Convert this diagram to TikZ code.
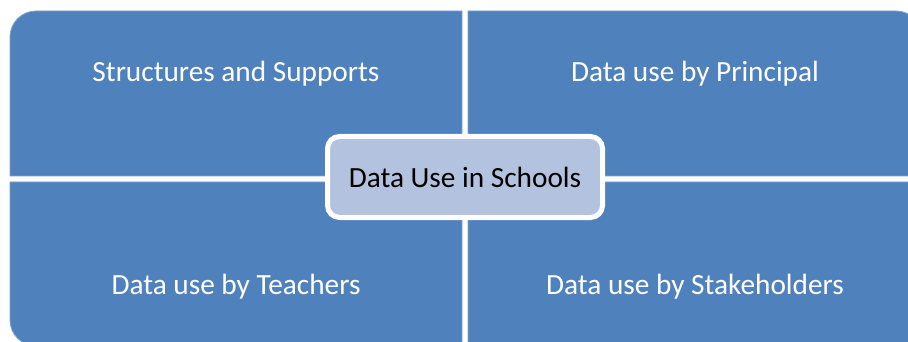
\documentclass[tikz,border=0pt]{standalone}
\usepackage{fontspec}
\setmainfont{Carlito}
\definecolor{quadblue}{HTML}{4F81BD}
\definecolor{quadedge}{HTML}{7FA1CE}
\definecolor{centerfill}{HTML}{B3C2DE}
\tikzset{
  quad/.style={fill=quadblue, draw=quadedge, line width=0.8pt},
  quadtext/.style={text=white, font=\fontsize{29.3}{34}\selectfont, inner sep=0pt, anchor=center},
  centerbox/.style={fill=centerfill, draw=white, line width=5pt, rounded corners=12pt,
    minimum width=275pt, minimum height=81pt, inner sep=0pt,
    font=\fontsize{29.3}{34}\selectfont, text=black}
}
\begin{document}
\begin{tikzpicture}[x=1pt,y=-1pt]
\useasboundingbox (0,0) rectangle (908,342);
\clip (0,0) rectangle (908,342);
\fill[white] (0,0) rectangle (908,342);
% quadrants
\path[quad] (10,176) [rounded corners=26pt]-- (10,11) [sharp corners]-- (462,11) -- (462,176) -- cycle;
\path[quad] (468,176) -- (468,11) [rounded corners=26pt]-- (922,11) [sharp corners]-- (922,176) -- cycle;
\path[quad] (462,182) -- (10,182) [rounded corners=26pt]-- (10,346) [sharp corners]-- (462,346) -- cycle;
\path[quad] (468,182) -- (922,182) [rounded corners=26pt]-- (922,346) [sharp corners]-- (468,346) -- cycle;
% labels
\node[quadtext] (ss) at (236,74) {Structures and Supports};
\node[quadtext] (pr) at (695,74) {Data use by Principal};
\node[quadtext] (te) at (236,287) {Data use by Teachers};
\node[quadtext] (st) at (695,287) {Data use by Stakeholders};
% center
\node[centerbox] (center) at (465,177) {\raisebox{-3pt}{Data Use in Schools}};
\end{tikzpicture}
\end{document}
